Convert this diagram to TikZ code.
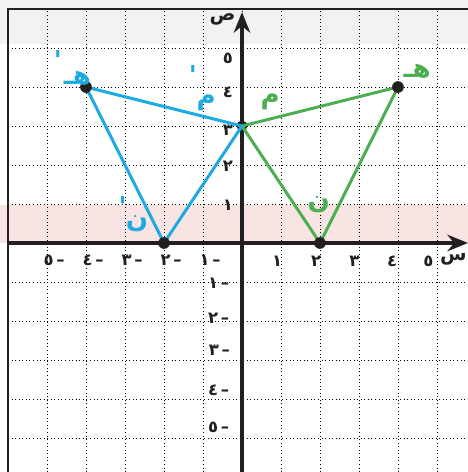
\documentclass[tikz,border=0pt]{standalone}
\usepackage{fontspec}
\usetikzlibrary{arrows.meta}
\TeXXeTstate=1
\newfontfamily\arabicfont[Script=Arabic]{DejaVu Sans}
\definecolor{myblue}{HTML}{1EA9E1}
\definecolor{mygreen}{HTML}{4BAE4F}
\definecolor{axiscol}{HTML}{231F20}
\definecolor{pinkband}{HTML}{F9E4E4}
\definecolor{greyband}{HTML}{F1F2F1}
\begin{document}
\begin{tikzpicture}[
  gridline/.style={black, line width=0.6pt, dotted},
  borderline/.style={axiscol, line width=1.1pt},
  axisline/.style={axiscol, line width=2.8pt},
  blueside/.style={myblue, line width=2.2pt, line join=round},
  greenside/.style={mygreen, line width=2.2pt, line join=round},
  ptdot/.style={fill=axiscol},
  numlbl/.style={font=\arabicfont\bfseries\fontsize{12}{12}\selectfont, text=axiscol, inner sep=0pt},
  bluelbl/.style={font=\arabicfont\bfseries\fontsize{19}{19}\selectfont, text=myblue, inner sep=0pt},
  greenlbl/.style={font=\arabicfont\bfseries\fontsize{19}{19}\selectfont, text=mygreen, inner sep=0pt},
  axislbl/.style={font=\arabicfont\bfseries\fontsize{14}{14}\selectfont, text=axiscol, inner sep=0pt}
]
\useasboundingbox (-6.205,-5.872) rectangle (5.795,6.231);
\fill[white] (-6.205,-5.872) rectangle (5.795,6.231);
\fill[greyband] (-6.205,5.1) rectangle (5.795,6.231);
\fill[pinkband] (-6.205,0) rectangle (5.795,0.97);
% grid
\foreach \x in {-5,...,5} \draw[gridline] (\x,-5.872) -- (\x,6);
\foreach \y in {-5,...,5} \draw[gridline] (-6,\y) -- (5.795,\y);
\draw[borderline] (-6,-5.872) -- (-6,6) -- (5.795,6);
% axes
\coordinate (xs) at (-6,0);
\coordinate (xe) at (5.795,0);
\coordinate (ys) at (0,-5.872);
\coordinate (ye) at (0,5.92);
\draw[axisline, -{Stealth[length=15pt,width=12pt]}] (xs) -- (xe);
\draw[axisline, -{Stealth[length=15pt,width=12pt]}] (ys) -- (ye);
\node[axislbl] (slbl) at (5.42,-0.42) {\beginR س\endR};
\node[axislbl] (plbl) at (-0.5,5.74) {\beginR ص\endR};
% x-axis numbers
\node[numlbl] (x1) at (0.9,-0.47) {١};
\node[numlbl] (x2) at (1.9,-0.47) {٢};
\node[numlbl] (x3) at (2.88,-0.47) {٣};
\node[numlbl] (x4) at (3.85,-0.47) {٤};
\node[numlbl] (x5) at (4.78,-0.47) {٥};
\node[numlbl] (xm1) at (-0.82,-0.45) {١\,–};
\node[numlbl] (xm2) at (-1.82,-0.45) {٢\,–};
\node[numlbl] (xm3) at (-2.82,-0.45) {٣\,–};
\node[numlbl] (xm4) at (-3.82,-0.45) {٤\,–};
\node[numlbl] (xm5) at (-4.82,-0.45) {٥\,–};
% y-axis numbers
\node[numlbl] (y1) at (-0.36,0.97) {١};
\node[numlbl] (y2) at (-0.36,1.98) {٢};
\node[numlbl] (y3) at (-0.36,2.88) {٣};
\node[numlbl] (y4) at (-0.36,3.87) {٤};
\node[numlbl] (y5) at (-0.36,4.74) {٥};
\node[numlbl] (ym1) at (-0.6,-1.03) {١\,–};
\node[numlbl] (ym2) at (-0.6,-1.92) {٢\,–};
\node[numlbl] (ym3) at (-0.58,-2.76) {٣\,–};
\node[numlbl] (ym4) at (-0.6,-3.77) {٤\,–};
\node[numlbl] (ym5) at (-0.6,-4.72) {٥\,–};
% points
\coordinate (H) at (4,4);
\coordinate (M) at (0,3);
\coordinate (N) at (2,0);
\coordinate (Hp) at (-4,4);
\coordinate (Np) at (-2,0);
\fill[ptdot] (M) circle (0.14);
\draw[greenside] (H) -- (M) -- (N) -- cycle;
\draw[blueside] (Hp) -- (M) -- (Np) -- cycle;
\fill[ptdot] (H) circle (0.15);
\fill[ptdot] (N) circle (0.15);
\fill[ptdot] (Hp) circle (0.15);
\fill[ptdot] (Np) circle (0.15);
% labels
\node[greenlbl] (lH) at (4.49,4.41) {\beginR هـ\endR};
\node[greenlbl] (lM) at (0.72,3.62) {\beginR م\endR};
\node[greenlbl] (lN) at (1.97,0.98) {\beginR ن\endR};
\node[bluelbl] (lHp) at (-4.22,4.23) {\beginR هـ\endR};
\node[bluelbl] (pHp) at (-4.72,4.68) {'};
\node[bluelbl] (lMp) at (-0.92,3.6) {\beginR م\endR};
\node[bluelbl] (pMp) at (-1.26,4.3) {'};
\node[bluelbl] (lNp) at (-2.69,0.5) {\beginR ن\endR};
\node[bluelbl] (pNp) at (-3.06,0.95) {'};
\end{tikzpicture}
\end{document}
